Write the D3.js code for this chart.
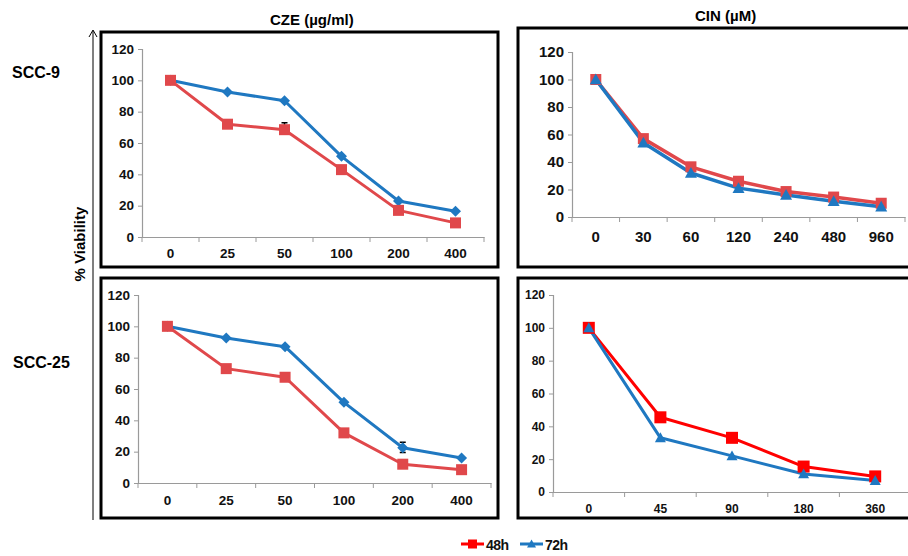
<!DOCTYPE html>
<html>
<head>
<meta charset="utf-8">
<script src="https://cdn.jsdelivr.net/npm/d3@7"></script>
<style>
  body { margin: 0; background: #fff; }
  svg { display: block; font-family: "Liberation Sans", Arial, sans-serif; }
</style>
</head>
<body>
<svg id="chart" width="908" height="556"></svg>
<script>
// ---------------------------------------------
//  Data
// ---------------------------------------------
const czeDoses = ["0", "25", "50", "100", "200", "400"];
const cinDosesScc9 = ["0", "30", "60", "120", "240", "480", "960"];
const cinDosesScc25 = ["0", "45", "90", "180", "360"];
const yTicks = [0, 20, 40, 60, 80, 100, 120];

const scc9Cze48 = [100, 72, 68.5, 43, 17, 9];
const scc9Cze72 = [100, 92.5, 87, 51.5, 23, 16.5];
const scc9Cin48 = [100, 57, 36.5, 26, 18.5, 14.5, 10];
const scc9Cin72 = [100, 54, 32, 21, 16, 11.5, 7.5];
const scc25Cze48 = [100, 73, 67.5, 32, 12, 8.5];
const scc25Cze72 = [100, 92.5, 87, 51.5, 22.5, 16];
const scc25Cin48 = [100, 45.5, 33, 15.5, 9.5];
const scc25Cin72 = [100, 33, 22, 11, 7];

// error bars: [category index, low, high]
const scc9Cze48Err = [[2, 66, 73]];
const scc25Cze72Err = [[4, 19.5, 26]];

const seriesNames = ["48h", "72h"];

const red = "#e0484b";
const brightRed = "#ff0000";
const blue = "#1f78c1";
const axisGray = "#9a9a9a";

const svg = d3.select("#chart");

// ---------------------------------------------
//  Frames, titles and side labels
// ---------------------------------------------
const frames = [
  { x: 101, y: 32, w: 397, h: 235 },
  { x: 518, y: 28, w: 400, h: 239 },
  { x: 101, y: 278, w: 397, h: 240 },
  { x: 518, y: 278, w: 400, h: 240 }
];
svg.selectAll("rect.frame")
  .data(frames)
  .enter()
  .append("rect")
  .attr("class", "frame")
  .attr("x", d => d.x)
  .attr("y", d => d.y)
  .attr("width", d => d.w)
  .attr("height", d => d.h)
  .attr("fill", "none")
  .attr("stroke", "#000")
  .attr("stroke-width", 3);

svg.append("text")
  .attr("x", 270).attr("y", 25)
  .attr("font-size", 15).attr("font-weight", "bold")
  .text("CZE (µg/ml)");

svg.append("text")
  .attr("x", 695).attr("y", 21)
  .attr("font-size", 15).attr("font-weight", "bold")
  .text("CIN (µM)");

svg.append("text")
  .attr("x", 12).attr("y", 78)
  .attr("font-size", 16).attr("font-weight", "bold")
  .text("SCC-9");

svg.append("text")
  .attr("x", 13).attr("y", 368)
  .attr("font-size", 16).attr("font-weight", "bold")
  .text("SCC-25");

// vertical arrow with % Viability
svg.append("line")
  .attr("x1", 93).attr("y1", 31)
  .attr("x2", 93).attr("y2", 520)
  .attr("stroke", "#000").attr("stroke-width", 1);
svg.append("path")
  .attr("d", "M89,37 L93,30 L97,37")
  .attr("fill", "none").attr("stroke", "#000").attr("stroke-width", 1);

svg.append("text")
  .attr("transform", "translate(85,244) rotate(-90)")
  .attr("text-anchor", "middle")
  .attr("font-size", 15).attr("font-weight", "bold")
  .text("% Viability");

// ---------------------------------------------
//  Panel drawing
// ---------------------------------------------
function marker(g, kind, size, color) {
  const h = size / 2;
  if (kind === "square") {
    g.append("rect")
      .attr("x", -h).attr("y", -h)
      .attr("width", size).attr("height", size)
      .attr("fill", color);
  } else if (kind === "diamond") {
    g.append("path")
      .attr("d", `M0,${-h}L${h},0L0,${h}L${-h},0Z`)
      .attr("fill", color);
  } else {
    g.append("path")
      .attr("d", `M0,${-h}L${h},${h * 0.8}L${-h},${h * 0.8}Z`)
      .attr("fill", color);
  }
}

function drawPanel(p) {
  const x = d3.scaleBand().domain(p.cats).range([p.left, p.right]);
  const y = d3.scaleLinear().domain([0, 120]).range([p.bottom, p.top]);
  const g = svg.append("g");

  // y axis
  const yAxis = g.append("g")
    .attr("transform", `translate(${p.left},0)`)
    .call(d3.axisLeft(y).tickValues(yTicks).tickSize(4).tickPadding(p.yPad));
  yAxis.select(".domain").attr("stroke", axisGray).attr("stroke-width", 1.2);
  yAxis.selectAll(".tick line").attr("stroke", axisGray);
  yAxis.selectAll(".tick text")
    .attr("fill", "#111")
    .attr("font-size", p.yFont)
    .attr("font-weight", "bold")
    .attr("font-family", "Liberation Sans, Arial, sans-serif");

  // x axis: labels at band centres, ticks at band edges
  const xAxis = g.append("g")
    .attr("transform", `translate(0,${p.bottom})`)
    .call(d3.axisBottom(x).tickSize(0).tickPadding(p.xPad));
  xAxis.select(".domain").attr("stroke", axisGray).attr("stroke-width", 1.2);
  xAxis.selectAll(".tick text")
    .attr("fill", "#111")
    .attr("font-size", p.xFont)
    .attr("font-weight", "bold")
    .attr("font-family", "Liberation Sans, Arial, sans-serif");
  const edges = p.cats.map(c => x(c)).concat([p.right]);
  g.selectAll("line.xt")
    .data(edges)
    .enter()
    .append("line")
    .attr("x1", d => d).attr("x2", d => d)
    .attr("y1", p.bottom).attr("y2", p.bottom + 5)
    .attr("stroke", axisGray);

  const cx = i => x(p.cats[i]) + x.bandwidth() / 2;
  const line = d3.line().x((d, i) => cx(i)).y(d => y(d));

  p.series.forEach(s => {
    g.append("path")
      .datum(s.values)
      .attr("d", line)
      .attr("fill", "none")
      .attr("stroke", s.color)
      .attr("stroke-width", p.lineWidth)
      .attr("stroke-linejoin", "round");
  });

  p.series.forEach(s => {
    (s.errors || []).forEach(e => {
      const ex = cx(e[0]);
      g.append("path")
        .attr("d", `M${ex - 3},${y(e[2])}H${ex + 3}M${ex},${y(e[2])}V${y(e[1])}M${ex - 3},${y(e[1])}H${ex + 3}`)
        .attr("stroke", "#000").attr("stroke-width", 1.5).attr("fill", "none");
    });
    s.values.forEach((v, i) => {
      const mg = g.append("g").attr("transform", `translate(${cx(i)},${y(v)})`);
      marker(mg, s.shape, s.size, s.color);
    });
  });
}

// top-left: SCC-9, CZE
drawPanel({
  cats: czeDoses, left: 142, right: 484, top: 49, bottom: 237,
  yFont: 13.5, xFont: 13.5, yPad: 4, xPad: 11, lineWidth: 3,
  series: [
    { values: scc9Cze72, color: blue, shape: "diamond", size: 11 },
    { values: scc9Cze48, color: red, shape: "square", size: 11, errors: scc9Cze48Err }
  ]
});

// top-right: SCC-9, CIN
drawPanel({
  cats: cinDosesScc9, left: 572, right: 905, top: 52, bottom: 217,
  yFont: 15, xFont: 15, yPad: 4, xPad: 14, lineWidth: 3.5,
  series: [
    { values: scc9Cin48, color: red, shape: "square", size: 11 },
    { values: scc9Cin72, color: blue, shape: "triangle", size: 12 }
  ]
});

// bottom-left: SCC-25, CZE
drawPanel({
  cats: czeDoses, left: 138, right: 491, top: 295, bottom: 483,
  yFont: 13.5, xFont: 13.5, yPad: 4, xPad: 12, lineWidth: 3,
  series: [
    { values: scc25Cze72, color: blue, shape: "diamond", size: 11, errors: scc25Cze72Err },
    { values: scc25Cze48, color: red, shape: "square", size: 11 }
  ]
});

// bottom-right: SCC-25, CIN
drawPanel({
  cats: cinDosesScc25, left: 553, right: 911, top: 295, bottom: 492,
  yFont: 12, xFont: 12, yPad: 4, xPad: 12.5, lineWidth: 3,
  series: [
    { values: scc25Cin48, color: brightRed, shape: "square", size: 12 },
    { values: scc25Cin72, color: blue, shape: "triangle", size: 11 }
  ]
});

// ---------------------------------------------
//  Legend
// ---------------------------------------------
const legend = svg.append("g").attr("transform", "translate(461,544)");
const legendItems = [
  { name: seriesNames[0], color: brightRed, shape: "square", dx: 0 },
  { name: seriesNames[1], color: blue, shape: "triangle", dx: 59 }
];
legendItems.forEach(d => {
  const item = legend.append("g").attr("transform", `translate(${d.dx},0)`);
  item.append("line")
    .attr("x1", 0).attr("x2", 23).attr("y1", 0).attr("y2", 0)
    .attr("stroke", d.color).attr("stroke-width", 3);
  const mg = item.append("g").attr("transform", "translate(11.5,0)");
  marker(mg, d.shape, 9, d.color);
  item.append("text")
    .attr("x", 25).attr("y", 5.5)
    .attr("font-size", 14).attr("font-weight", "bold")
    .attr("fill", "#111")
    .attr("textLength", 23)
    .text(d.name);
});
</script>
</body>
</html>
